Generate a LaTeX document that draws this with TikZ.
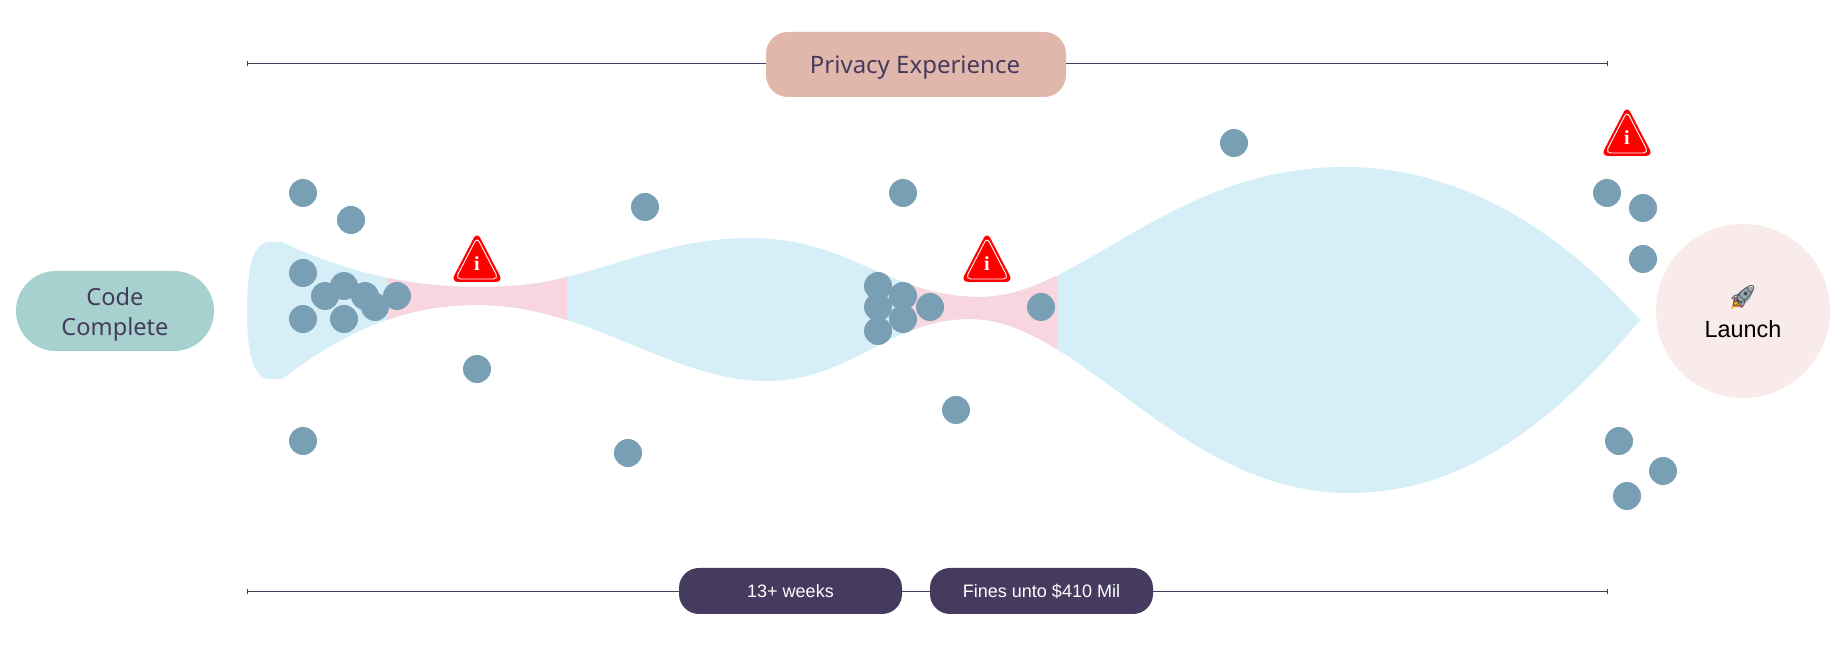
\documentclass[tikz,border=0pt]{standalone}
\usepackage{fontspec}
\setmainfont{Liberation Sans}
\newfontfamily\interfont{Noto Sans}
\newfontfamily\emojifont{Noto Emoji}
\newfontfamily\seriffont{Liberation Serif}
\usetikzlibrary{arrows.meta}
\definecolor{funnelblue}{HTML}{D5EEF8}
\definecolor{neckpink}{HTML}{F8D6E0}
\definecolor{ball}{HTML}{789FB3}
\definecolor{ink}{HTML}{453B5E}
\definecolor{codegreen}{HTML}{A7D1CE}
\definecolor{privacyrose}{HTML}{E1B7AC}
\definecolor{launchrose}{HTML}{F8EBEA}
\definecolor{rocketbody}{HTML}{97A8B4}
\tikzset{
  ballnode/.style={circle,fill=ball,minimum size=14pt,inner sep=0pt},
  spanline/.style={draw=ink,line width=0.5pt,{Bar[width=2.5pt,length=0.5pt]}-{Bar[width=2.5pt,length=0.5pt]}},
  darkpill/.style={rectangle,rounded corners=10pt,fill=ink,text=white,minimum width=111.5pt,minimum height=23pt,inner sep=0pt,font=\fontsize{9}{11}\selectfont},
  warnmark/.style={inner sep=0pt,text=white,font=\seriffont\bfseries\fontsize{10}{10}\selectfont}
}
\newcommand{\warnsign}[3]{%
  \fill[red,draw=red,line width=0.3pt,line join=round,rounded corners=3.2pt] (#1,#2-3.5) -- ++(25.5,49) -- ++(-51,0) -- cycle;
  \draw[white,line width=0.45pt,rounded corners=2.6pt] (#1,#2+1.5) -- ++(21.5,41.5) -- ++(-43,0) -- cycle;
  \node[warnmark] (#3) at (#1,#2+28) {i};
}
\begin{document}
\begin{tikzpicture}[x=0.5pt,y=-0.5pt]
\useasboundingbox (0,0) rectangle (1848,672);
% funnel
\def\funnel{(282,242) .. controls (345,272) and (410,287) .. (477,287)
  .. controls (515,287) and (540,284) .. (567,277)
  .. controls (630,261) and (680,238) .. (750,238)
  .. controls (850,238) and (890,297) .. (980,297)
  .. controls (1080,297) and (1170,167) .. (1345,167)
  .. controls (1460,167) and (1560,230) .. (1640,320)
  .. controls (1540,440) and (1450,493) .. (1349,493)
  .. controls (1180,493) and (1080,319) .. (970,319)
  .. controls (890,319) and (850,381) .. (767,381)
  .. controls (670,381) and (590,305) .. (477,305)
  .. controls (400,305) and (340,335) .. (282,379)
  -- (270,379) .. controls (252,379) and (247,350) .. (247,310)
  .. controls (247,270) and (252,242) .. (270,242) -- cycle}
\fill[funnelblue] \funnel;
\begin{scope}
  \clip \funnel;
  \fill[neckpink] (387,200) rectangle (567,400);
  \fill[neckpink] (905,200) rectangle (1057,400);
\end{scope}
% balls
\foreach \n/\x/\y in {a1/303/193,a2/351/220,a3/303/273,a4/325/296,a5/344/286,a6/365/296,a7/375/307,a8/397/296,a9/303/319,a10/344/319,a11/477/369,a12/303/441,
  b1/645/207,b2/628/453,
  c1/903/193,c2/878/286,c3/878/307,c4/878/331,c5/903/296,c6/903/319,c7/930/307,c8/1041/307,c9/956/410,
  d1/1234/143,
  e1/1607/193,e2/1643/208,e3/1643/259,e4/1619/441,e5/1663/471,e6/1627/496}
  \node[ballnode] (\n) at (\x,\y) {};
% warnings
\warnsign{477}{236}{warnA}
\warnsign{987}{236}{warnB}
\warnsign{1627}{110}{warnC}
% span lines
\coordinate (topL) at (247,64);
\coordinate (topR) at (1608,64);
\coordinate (botL) at (247,592);
\coordinate (botR) at (1608,592);
\draw[spanline] (topL) -- (topR);
\draw[spanline] (botL) -- (botR);
% labels
\node[rectangle,rounded corners=11pt,fill=privacyrose,minimum width=150pt,minimum height=32.5pt,inner sep=0pt] (privacy) at (916,64.5) {};
\node[inner sep=0pt,text=ink,font=\interfont\fontsize{12}{14}\selectfont] (privacytext) at (915,67.5) {Privacy Experience};
\node[darkpill] (weeks) at (790.5,591) {\raisebox{-0.5pt}{13+ weeks}};
\node[darkpill] (fines) at (1041.5,591) {\raisebox{-0.5pt}{Fines unto \$410 Mil}};
\node[rectangle,rounded corners=19.9pt,fill=codegreen,minimum width=99pt,minimum height=40pt,inner sep=0pt] (code) at (115,311) {};
\node[inner sep=0pt,text=ink,align=center,font=\interfont\fontsize{11.8}{14.8}\selectfont] (codetext) at (115,314.5) {Code\\Complete};
\node[circle,fill=launchrose,minimum size=87pt,inner sep=0pt] (launch) at (1743,311) {};
\begin{scope}[shift={(1743,297)},rotate=-45]
  \fill[red!90!black] (-7,6) -- (7,6) -- (0,14) -- cycle;
  \fill[orange!60!yellow] (-3.5,7) -- (3.5,7) -- (0,17) -- cycle;
  \fill[rocketbody] (0,-14) .. controls (7,-8) and (7,2) .. (5,8) -- (-5,8) .. controls (-7,2) and (-7,-8) .. (0,-14) -- cycle;
\end{scope}
\node[inner sep=0pt,text=black!70,font=\emojifont\fontsize{11.5}{11.5}\selectfont] (rocket) at (1743,297) {🚀};
\node[inner sep=0pt,text=black,font=\fontsize{11.7}{14}\selectfont] (launchtext) at (1743,329) {Launch};
\end{tikzpicture}
\end{document}
